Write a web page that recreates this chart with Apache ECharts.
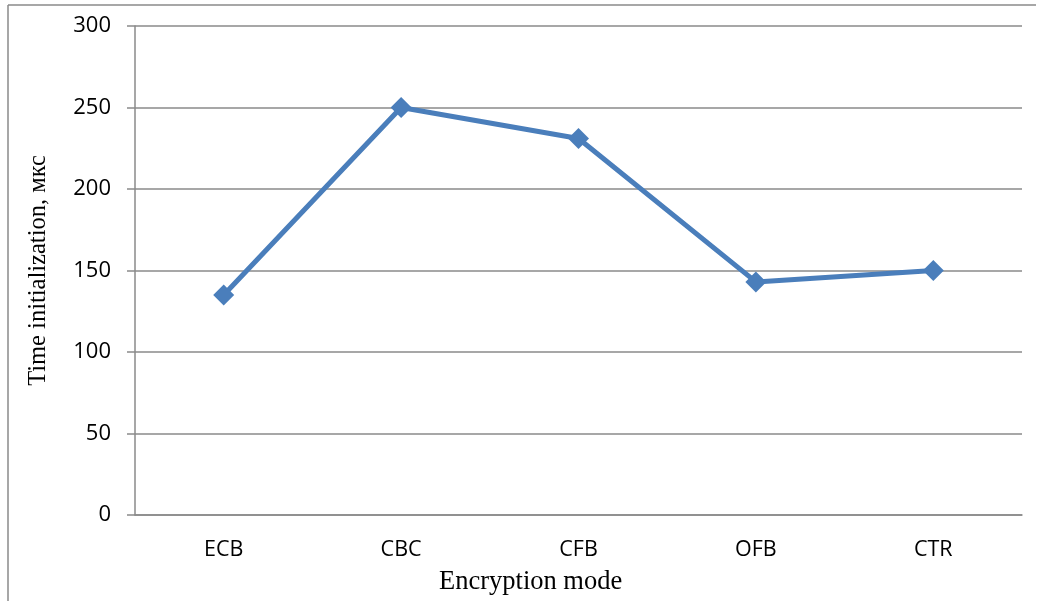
<!DOCTYPE html>
<html>
<head>
<meta charset="utf-8">
<script src="https://cdn.jsdelivr.net/npm/echarts@6/dist/echarts.min.js"></script>
<style>
  html, body { margin: 0; padding: 0; background: #fff; }
  #chart { width: 1038px; height: 601px; }
</style>
</head>
<body>
<div id="chart"></div>
<script>
// Encryption modes and their initialization time (microseconds)
const modes = ['ECB', 'CBC', 'CFB', 'OFB', 'CTR'];
const initTime = [135, 250, 231, 143, 150];
const yTicks = { min: 0, max: 300, step: 50 };

const chart = echarts.init(document.getElementById('chart'), null, { renderer: 'canvas' });

const gridColor = '#8a8a8a';
const lineColor = '#4a7ebb';

chart.setOption({
  animation: false,
  backgroundColor: '#ffffff',
  grid: { left: 135, right: 16, top: 26, bottom: 86 },
  graphic: [
    // outer frame (left and top edges)
    { type: 'line', shape: { x1: 8, y1: 5, x2: 8, y2: 601 }, style: { stroke: '#8a8a8a', lineWidth: 1.5 } },
    { type: 'line', shape: { x1: 8, y1: 5, x2: 1036, y2: 5 }, style: { stroke: '#8a8a8a', lineWidth: 1.5 } },
    {
      type: 'text', left: 439, top: 569,
      style: { text: 'Encryption mode', font: '26.5px "Liberation Serif"', fill: '#000' }
    }
  ],
  xAxis: {
    type: 'category',
    data: modes,
    boundaryGap: true,
    axisLine: { lineStyle: { color: gridColor, width: 1.5 } },
    axisTick: { show: false },
    axisLabel: { color: '#000', fontFamily: 'Open Sans', fontSize: 21.5, margin: 24 }
  },
  yAxis: {
    type: 'value',
    min: yTicks.min, max: yTicks.max, interval: yTicks.step,
    name: 'Time initialization, мкс',
    nameLocation: 'middle',
    nameGap: 84,
    nameTextStyle: { color: '#000', fontFamily: 'Liberation Serif', fontSize: 24.5 },
    axisLine: { show: true, lineStyle: { color: gridColor, width: 1.5 } },
    axisTick: { show: true, length: 8, lineStyle: { color: gridColor, width: 1.5 } },
    axisLabel: { color: '#000', fontFamily: 'Open Sans', fontSize: 22, margin: 24 },
    splitLine: { lineStyle: { color: gridColor, width: 1.5 } }
  },
  series: [{
    type: 'line',
    data: initTime,
    symbol: 'diamond',
    symbolSize: 21,
    lineStyle: { color: lineColor, width: 5 },
    itemStyle: { color: lineColor }
  }]
});
</script>
</body>
</html>
